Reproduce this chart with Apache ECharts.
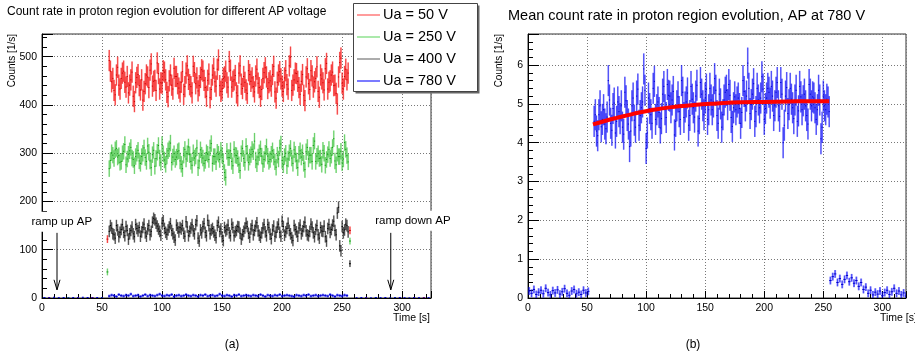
<!DOCTYPE html>
<html>
<head>
<meta charset="utf-8">
<script src="https://cdn.jsdelivr.net/npm/echarts@6/dist/echarts.min.js"></script>
<style>
html, body { margin: 0; padding: 0; background: #fff; }
#chart { width: 915px; height: 360px; }
</style>
</head>
<body>
<div id="chart"></div>
<script>
const FONT = '"Liberation Sans", Arial, Helvetica, sans-serif';

// ---- panel (a): count rate per AP voltage, 1 s bins starting at 56 s ----
const binStart = 56;
const binStep = 1;
const red50 = [
  492, 470, 448, 455, 430, 421, 462, 478, 441, 433,
  455, 466, 470, 447, 437, 459, 425, 441, 452, 468,
  418, 407, 446, 457, 463, 440, 431, 452, 410, 428,
  444, 462, 458, 436, 472, 485, 439, 449, 451, 430,
  487, 465, 433, 446, 445, 471, 468, 452, 426, 417,
  450, 462, 441, 433, 476, 459, 459, 444, 435, 427,
  447, 469, 422, 438, 466, 481, 453, 442, 438, 425,
  480, 467, 444, 456, 429, 440, 457, 473, 470, 451,
  436, 418, 451, 464, 415, 432, 462, 476, 448, 439,
  474, 493, 440, 428, 433, 455, 458, 470, 446, 437,
  490, 472, 437, 449, 452, 461, 425, 419, 466, 481,
  443, 434, 459, 447, 431, 424, 471, 463, 449, 456,
  438, 427, 460, 474, 445, 436, 418, 432, 455, 467,
  477, 458, 434, 446, 450, 439, 463, 480, 427, 414,
  447, 462, 469, 454, 439, 428, 456, 471, 442, 433,
  481, 499, 430, 441, 452, 466, 465, 449, 436, 422,
  449, 463, 420, 409, 458, 475, 444, 432, 471, 460,
  437, 448, 455, 479, 428, 416, 462, 454, 446, 431,
  475, 486, 433, 447, 450, 462, 468, 440, 441, 424,
  402, 458, 488, 497, 445, 433, 459, 474, 452, 466
];
const green250 = [
  268, 285, 301, 296, 289, 307, 310, 292, 295, 281,
  283, 299, 304, 318, 276, 288, 298, 305, 312, 290,
  287, 274, 293, 300, 306, 284, 279, 293, 300, 311,
  291, 283, 315, 302, 284, 270, 297, 306, 273, 289,
  302, 316, 290, 281, 318, 299, 286, 277, 294, 305,
  309, 321, 281, 292, 299, 287, 292, 303, 305, 284,
  277, 268, 296, 308, 288, 299, 313, 297, 283, 275,
  301, 290, 294, 311, 270, 284, 307, 296, 290, 279,
  285, 301, 298, 287, 311, 320, 279, 293, 293, 282,
  302, 298, 287, 306, 296, 283, 260, 250, 304, 291,
  291, 305, 283, 274, 308, 296, 295, 289, 276, 264,
  299, 310, 289, 281, 314, 300, 281, 292, 297, 308,
  303, 325, 286, 278, 292, 301, 309, 294, 278, 287,
  300, 313, 294, 283, 287, 298, 305, 292, 282, 271,
  296, 288, 311, 319, 285, 276, 293, 300, 274, 288,
  301, 310, 290, 279, 307, 298, 284, 270, 298, 305,
  292, 301, 279, 266, 303, 312, 288, 296, 296, 283,
  316, 325, 283, 294, 299, 289, 290, 277, 306, 300,
  275, 287, 297, 308, 289, 296, 312, 330, 284, 276,
  300, 293, 293, 304, 280, 288, 322, 308, 295, 282
];
const black400 = [
  138, 150, 145, 133, 131, 124, 150, 141, 127, 136,
  142, 152, 136, 129, 148, 140, 122, 133, 140, 147,
  133, 127, 152, 144, 139, 146, 128, 137, 146, 153,
  135, 128, 143, 150, 131, 138, 157, 165, 162, 155,
  149, 143, 138, 130, 155, 160, 144, 136, 132, 141,
  147, 154, 140, 133, 126, 120, 151, 145, 137, 146,
  143, 150, 134, 128, 158, 147, 129, 138, 145, 152,
  139, 133, 152, 160, 124, 118, 141, 135, 148, 154,
  136, 129, 161, 150, 133, 141, 144, 137, 130, 125,
  150, 157, 138, 143, 127, 119, 146, 139, 142, 151,
  135, 129, 153, 146, 129, 137, 140, 148, 147, 134,
  122, 131, 138, 145, 155, 148, 134, 126, 143, 150,
  131, 140, 149, 156, 139, 130, 126, 135, 145, 152,
  137, 129, 152, 146, 132, 123, 141, 149, 128, 136,
  147, 153, 136, 128, 159, 148, 130, 137, 144, 155,
  140, 133, 125, 119, 150, 142, 137, 128, 145, 151,
  133, 139, 148, 157, 139, 131, 129, 138, 153, 147,
  135, 127, 142, 150, 131, 124, 146, 139, 138, 149,
  127, 118, 144, 152, 136, 142, 151, 159, 140, 131,
  176, 188, 108, 98, 148, 135, 141, 153, 150, 137
];
// 780 V band in panel (a), 2 s bins
const blueStep = 2;
const blue780 = [
  4, 6, 5, 3, 7, 5, 4, 6, 5, 8,
  4, 5, 6, 3, 5, 7, 4, 6, 5, 4,
  6, 8, 5, 4, 6, 5, 7, 3, 5, 6,
  4, 5, 7, 5, 4, 6, 5, 3, 6, 5,
  7, 4, 5, 6, 4, 5, 8, 5, 4, 6,
  5, 3, 6, 5, 7, 4, 5, 6, 5, 4,
  6, 5, 4, 7, 5, 3, 6, 5, 4, 6,
  5, 7, 4, 5, 6, 5, 4, 3, 6, 5,
  4, 6, 5, 7, 4, 5, 6, 4, 5, 6,
  5, 4, 7, 5, 3, 6, 5, 4, 6, 5
];
const errRed = 22, errGreen = 17, errBlack = 12, errBlue = 2.8;

// partial bins at ramp edges
const edgeT = [54.5, 256.5];
const red50Edge = [122, 140];
const green250Edge = [54, 118];
const black400Edge = [null, 71];

// near-zero bins while AP is ramped
const baseT = [2, 6, 10, 14, 18, 22, 26, 30, 34, 38, 42, 46, 50,
  262, 266, 270, 274, 278, 282, 286, 290, 294, 298, 302, 306, 310, 314, 318, 322];
const blueBase = [1, 0.5, 1.5, 0.5, 1, 0, 1, 0.5, 1.5, 1, 0.5, 1, 0.5,
  0.5, 1, 0.5, 0, 1, 0.5, 1, 0, 0.5, 1, 0.5, 0, 1, 0.5, 0, 0.5];
const redBase = [null, 1, null, null, null, null, null, 0.5, null, null, 1, null, 1,
  null, null, 1, null, null, null, null, null, null, 0.5, null, null, 1, null, 1, null];
const greenBase = [0.5, null, null, null, null, 0.5, null, null, null, null, null, null, 0.5,
  null, null, null, null, 0.5, null, null, null, 1, null, null, null, null, null, null, null];

// ---- panel (b): mean rate at 780 V ----
const lowStep = 2;
const earlyStart = 1;
const rateEarly = [
  0.18, 0.12, 0.22, 0.09, 0.15, 0.20, 0.11, 0.25, 0.14, 0.08,
  0.19, 0.13, 0.21, 0.10, 0.16, 0.24, 0.12, 0.07, 0.18, 0.22,
  0.11, 0.15, 0.09, 0.20, 0.13, 0.17
];
const rateMain = [
  4.55, 4.72, 4.30, 4.18, 4.72, 4.95, 4.41, 4.60, 4.85, 4.48,
  4.36, 4.66, 5.60, 5.10, 4.50, 4.32, 4.88, 5.02, 4.25, 4.55,
  5.05, 4.80, 4.62, 4.95, 4.40, 4.22, 5.30, 5.08, 4.70, 4.48,
  3.90, 4.30, 4.95, 5.15, 4.58, 4.40, 5.20, 5.38, 4.45, 4.70,
  4.90, 5.05, 5.90, 5.35, 3.85, 4.25, 5.15, 4.88, 4.72, 4.50,
  5.40, 5.58, 4.60, 4.85, 5.05, 4.78, 4.38, 4.62, 5.25, 5.45,
  4.85, 4.65, 5.50, 5.22, 5.20, 4.90, 5.10, 5.32, 4.20, 4.55,
  4.95, 5.18, 4.80, 4.60, 5.60, 5.30, 4.65, 4.92, 5.05, 5.28,
  4.45, 4.70, 5.45, 5.12, 4.90, 4.66, 5.20, 5.48, 4.30, 4.62,
  5.55, 5.25, 4.95, 4.72, 5.15, 5.38, 4.60, 4.85, 5.40, 5.10,
  4.85, 5.05, 5.65, 5.35, 4.70, 4.50, 5.25, 5.00, 4.40, 4.72,
  5.10, 5.30, 5.35, 4.98, 5.50, 5.22, 4.65, 4.42, 4.90, 5.18,
  4.85, 5.05, 5.15, 4.88, 4.50, 4.78, 5.60, 5.32, 4.95, 5.20,
  6.05, 5.40, 4.75, 4.98, 5.25, 5.52, 4.55, 4.80, 5.40, 5.10,
  4.90, 5.15, 5.70, 5.38, 4.60, 4.88, 5.15, 5.40, 5.30, 5.02,
  5.45, 5.20, 4.70, 4.95, 5.30, 5.55, 4.95, 4.68, 5.55, 5.25,
  4.00, 4.45, 5.20, 5.42, 4.75, 4.98, 5.40, 5.12, 4.90, 4.62,
  5.10, 5.35, 4.55, 4.82, 5.45, 5.18, 4.85, 5.08, 5.25, 4.95,
  4.70, 4.48, 5.50, 5.25, 4.95, 5.18, 5.15, 4.90, 4.60, 4.85,
  5.35, 5.10, 4.10, 4.40, 5.20, 4.95, 4.85, 5.12, 5.05, 4.80
];
const tailStart = 256;
const rateTail = [
  0.45, 0.55, 0.62, 0.40, 0.50, 0.35, 0.48, 0.58, 0.42, 0.52,
  0.38, 0.45, 0.30, 0.40, 0.22, 0.28, 0.12, 0.20, 0.08, 0.15,
  0.10, 0.18, 0.06, 0.14, 0.20, 0.09, 0.16, 0.25, 0.12, 0.18,
  0.08, 0.13, 0.05
];
const errMain = 0.4, errLow = 0.1;
const fitT = [55, 65, 75, 90, 105, 120, 140, 160, 180, 200, 220, 240, 255];
const fitV = [4.47, 4.56, 4.64, 4.75, 4.84, 4.91, 4.97, 5.01, 5.04, 5.05, 5.06, 5.07, 5.07];

// annotation anchors (data units of panel a)
const rampUpT = 12.5, rampDownT = 290.5;

function bins(vals, start, step, err) {
  return vals.map((v, i) => [start + i * step, v, err, step / 2]).filter(d => d[1] != null);
}
function atTimes(ts, vals, err) {
  return ts.map((t, i) => [t, vals[i], err, 0.8]).filter(d => d[1] != null);
}

function errorBar(barColor, coreColor, tickColor, barW) {
  return function (params, api) {
    const t = api.value(0), v = api.value(1), e = api.value(2), hw = api.value(3);
    const hi = api.coord([t, v + e]), lo = api.coord([t, v - e]);
    const l = api.coord([t - hw, v]), r = api.coord([t + hw, v]);
    return {
      type: 'group',
      children: [
        { type: 'line', shape: { x1: hi[0], y1: hi[1], x2: lo[0], y2: lo[1] },
          style: { stroke: barColor, lineWidth: barW } },
        { type: 'line', shape: { x1: hi[0], y1: hi[1], x2: lo[0], y2: lo[1] },
          style: { stroke: coreColor, lineWidth: 0.6 } },
        { type: 'line', shape: { x1: l[0], y1: l[1], x2: r[0], y2: r[1] },
          style: { stroke: tickColor, lineWidth: 1 } }
      ]
    };
  };
}

function errSeries(gi, data, c, barW) {
  return {
    type: 'custom', xAxisIndex: gi, yAxisIndex: gi, data: data,
    encode: { x: 0, y: 1 }, clip: true, silent: true,
    renderItem: errorBar(c[0], c[1], c[2], barW || 1.6)
  };
}

function xAx(gi, max) {
  return {
    type: 'value', gridIndex: gi, min: 0, max: max, interval: 50,
    axisLine: { onZero: false, lineStyle: { color: '#000', width: 1 } },
    axisTick: { inside: true, length: 7, lineStyle: { color: '#000' } },
    minorTick: { show: true, splitNumber: 5, length: 4, lineStyle: { color: '#000' } },
    splitLine: { show: true, lineStyle: { type: [1, 2], color: '#777' } },
    axisLabel: { fontFamily: FONT, fontSize: 10.5, color: '#000', margin: 5, showMaxLabel: false }
  };
}
function yAx(gi, max, interval) {
  return {
    type: 'value', gridIndex: gi, min: 0, max: max, interval: interval,
    axisLine: { show: true, onZero: false, lineStyle: { color: '#000', width: 1 } },
    axisTick: { show: true, inside: true, length: 11, lineStyle: { color: '#000' } },
    minorTick: { show: true, splitNumber: 5, length: 5, lineStyle: { color: '#000' } },
    splitLine: { show: true, lineStyle: { type: [1, 2], color: '#777' } },
    axisLabel: { fontFamily: FONT, fontSize: 10.5, color: '#000', margin: 5, showMaxLabel: false }
  };
}

const RED = ['rgba(255,0,0,0.5)', 'rgba(230,0,0,0.75)', 'rgba(200,0,0,0.95)'];
const GREEN = ['rgba(60,205,60,0.45)', 'rgba(30,175,30,0.7)', 'rgba(20,150,20,0.95)'];
const BLACK = ['rgba(0,0,0,0.45)', 'rgba(0,0,0,0.7)', '#000'];
const BLUE = ['rgba(0,0,255,0.48)', 'rgba(0,0,235,0.75)', '#0000cc'];

const chart = echarts.init(document.getElementById('chart'), null, { renderer: 'canvas' });

chart.setOption({
  animation: false,
  backgroundColor: '#fff',
  grid: [
    { left: 42, top: 34, width: 389, height: 264, show: true, borderColor: '#333', borderWidth: 1, backgroundColor: 'transparent' },
    { left: 528, top: 34, width: 378, height: 264, show: true, borderColor: '#333', borderWidth: 1, backgroundColor: 'transparent' }
  ],
  xAxis: [xAx(0, 324), xAx(1, 320)],
  yAxis: [yAx(0, 547, 100), yAx(1, 6.8, 1)],
  series: [
    errSeries(0, atTimes(baseT, redBase, 0.8), RED),
    errSeries(0, atTimes(baseT, greenBase, 0.8), GREEN),
    errSeries(0, atTimes(baseT, blueBase, 0.8), BLUE),
    errSeries(0, bins(red50, binStart, binStep, errRed), RED),
    errSeries(0, atTimes(edgeT, red50Edge, 8), RED),
    errSeries(0, bins(green250, binStart, binStep, errGreen), GREEN),
    errSeries(0, atTimes(edgeT, green250Edge, 7), GREEN),
    errSeries(0, bins(black400, binStart, binStep, errBlack), BLACK),
    errSeries(0, atTimes(edgeT, black400Edge, 7), BLACK),
    errSeries(0, bins(blue780, binStart, blueStep, errBlue), BLUE, 2.2),
    errSeries(1, bins(rateEarly, earlyStart, lowStep, errLow), BLUE, 2),
    errSeries(1, bins(rateMain, binStart, binStep, errMain), BLUE),
    errSeries(1, bins(rateTail, tailStart, lowStep, errLow), BLUE, 2),
    {
      type: 'line', xAxisIndex: 1, yAxisIndex: 1, smooth: true, showSymbol: false, silent: true,
      data: fitT.map((t, i) => [t, fitV[i]]),
      lineStyle: { color: '#ff0000', width: 4 }, z: 5
    }
  ]
});

function txt(x, y, text, size, opts) {
  return Object.assign({
    type: 'text', x: x, y: y, z: 50,
    style: Object.assign({ text: text, font: size + 'px ' + FONT, fill: '#000' }, (opts && opts.style) || {})
  }, opts && opts.rotation != null ? { rotation: opts.rotation } : {});
}

const up0 = chart.convertToPixel({ xAxisIndex: 0, yAxisIndex: 0 }, [rampUpT, 135]);
const up1 = chart.convertToPixel({ xAxisIndex: 0, yAxisIndex: 0 }, [rampUpT, 17]);
const dn0 = chart.convertToPixel({ xAxisIndex: 0, yAxisIndex: 0 }, [rampDownT, 135]);
const dn1 = chart.convertToPixel({ xAxisIndex: 0, yAxisIndex: 0 }, [rampDownT, 17]);
const upLbl = chart.convertToPixel({ xAxisIndex: 0, yAxisIndex: 0 }, [16.5, 158]);
const dnLbl = chart.convertToPixel({ xAxisIndex: 0, yAxisIndex: 0 }, [309, 160]);

function arrow(p0, p1) {
  return [
    { type: 'line', z: 50, shape: { x1: p0[0], y1: p0[1], x2: p1[0], y2: p1[1] }, style: { stroke: '#000', lineWidth: 1 } },
    { type: 'polyline', z: 50, shape: { points: [[p1[0] - 3, p1[1] - 10], [p1[0], p1[1]], [p1[0] + 3, p1[1] - 10]] },
      style: { stroke: '#000', lineWidth: 1, fill: null } }
  ];
}

const legendRows = [
  ['Ua = 50 V', 'rgba(255,0,0,0.6)'],
  ['Ua = 250 V', 'rgba(40,200,40,0.6)'],
  ['Ua = 400 V', 'rgba(0,0,0,0.5)'],
  ['Ua = 780 V', 'rgba(0,0,255,0.8)']
];
const legendEls = [
  { type: 'rect', z: 60, shape: { x: 355.5, y: 5.5, width: 124, height: 88 }, style: { fill: '#666' } },
  { type: 'rect', z: 61, shape: { x: 353.5, y: 3.5, width: 124, height: 88 }, style: { fill: '#fff', stroke: '#444', lineWidth: 1 } }
];
legendRows.forEach((r, i) => {
  const y = 15 + i * 22;
  legendEls.push({ type: 'line', z: 62, shape: { x1: 357, y1: y, x2: 380, y2: y }, style: { stroke: r[1], lineWidth: 1.3 } });
  legendEls.push({ type: 'text', z: 62, x: 383, y: y, style: { text: r[0], font: '14.5px ' + FONT, fill: '#000', verticalAlign: 'middle' } });
});

chart.setOption({
  graphic: [
    txt(7, 12, 'Count rate in proton region evolution for different AP voltage', 12, { style: { verticalAlign: 'middle' } }),
    txt(508, 16, 'Mean count rate in proton region evolution, AP at 780 V', 14.5, { style: { verticalAlign: 'middle' } }),
    txt(12, 34, 'Counts [1/s]', 10, { rotation: Math.PI / 2, style: { align: 'right', verticalAlign: 'middle' } }),
    txt(499, 34, 'Counts [1/s]', 10, { rotation: Math.PI / 2, style: { align: 'right', verticalAlign: 'middle' } }),
    txt(430, 318, 'Time [s]', 10.5, { style: { align: 'right', verticalAlign: 'middle' } }),
    txt(880, 318, 'Time [s]', 10.5, { style: { align: 'left', verticalAlign: 'middle' } }),
    txt(232, 345, '(a)', 12, { style: { align: 'center', verticalAlign: 'middle' } }),
    txt(693, 345, '(b)', 12, { style: { align: 'center', verticalAlign: 'middle' } }),
    txt(upLbl[0], upLbl[1], 'ramp up AP', 11.5, { style: { align: 'center', verticalAlign: 'middle', backgroundColor: '#fff', padding: [4, 3] } }),
    txt(dnLbl[0], dnLbl[1], 'ramp down AP', 11.5, { style: { align: 'center', verticalAlign: 'middle', backgroundColor: '#fff', padding: [4, 3] } })
  ].concat(arrow(up0, up1), arrow(dn0, dn1), legendEls)
});
</script>
</body>
</html>
